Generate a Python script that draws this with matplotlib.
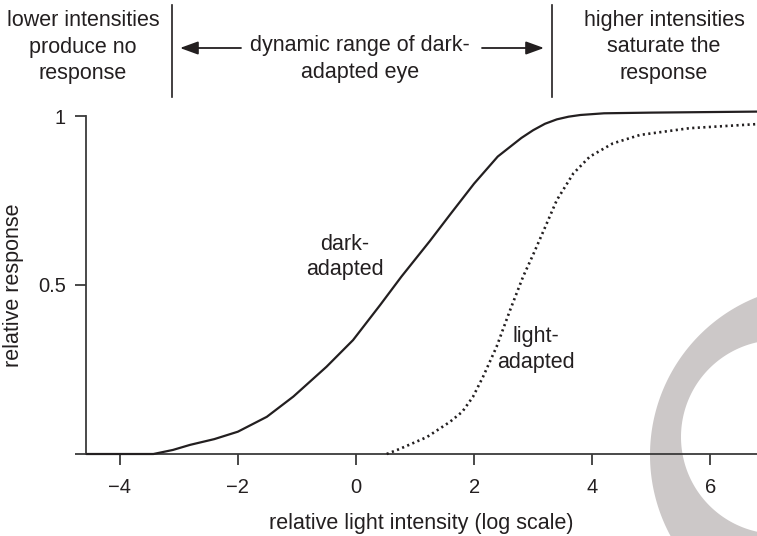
import numpy as np
import matplotlib
matplotlib.use("Agg")
import matplotlib.pyplot as plt
from matplotlib.path import Path
from matplotlib.patches import PathPatch
from matplotlib.transforms import Affine2D, blended_transform_factory

plt.rcParams['font.family'] = ['Liberation Sans', 'DejaVu Sans']

# response curves (x = log intensity, y = relative response)
dark_x = [-4.55, -3.43, -3.1, -2.81, -2.4, -2.0, -1.51, -1.06, -0.5, -0.05, 0.41,
          0.77, 1.25, 1.6, 2.0, 2.4, 2.8, 3.0, 3.2, 3.4, 3.6, 3.8, 4.2, 5.0, 6.79]
dark_y = [0.0, 0.0, 0.012, 0.027, 0.044, 0.066, 0.110, 0.170, 0.258, 0.337, 0.441,
          0.525, 0.63, 0.71, 0.80, 0.88, 0.935, 0.958, 0.977, 0.99, 0.998, 1.003,
          1.008, 1.01, 1.013]

light_x = [0.52, 0.74, 1.2, 1.59, 1.8, 1.98, 2.15, 2.38, 2.61, 2.83, 3.0, 3.2,
           3.4, 3.68, 3.96, 4.35, 4.81, 5.65, 6.79]
light_y = [0.0, 0.015, 0.05, 0.095, 0.125, 0.169, 0.228, 0.317, 0.426, 0.525,
           0.59, 0.67, 0.751, 0.830, 0.880, 0.919, 0.944, 0.964, 0.976]

xticks = [-4, -2, 0, 2, 4, 6]
yticks = [0, 0.5, 1]
ytick_labels = ['', '0.5', '1']

# boundaries of the dark-adapted dynamic range
range_lo, range_hi = -3.11, 3.32

ink = '#231f20'
W, H = 757, 536

fig = plt.figure(figsize=(W / 100, H / 100), dpi=100)
ax = fig.add_axes([85.5 / W, (H - 454) / H, 1 - 85.5 / W, (454 - 116) / H])
ax.set_facecolor('none')

# grey crescent decoration (pixel coords, y downward)
px = Affine2D().scale(1, -1).translate(0, H).scale(1 / W, 1 / H) + fig.transFigure
t = np.linspace(0, 2 * np.pi, 300)
outer = np.column_stack([820 + 170 * np.cos(t), 455 + 170 * np.sin(t)])
inner = np.column_stack([778 + 97 * np.cos(t[::-1]), 437 + 97 * np.sin(t[::-1])])
verts = np.vstack([outer, inner])
codes = np.full(len(verts), Path.LINETO)
codes[0] = Path.MOVETO
codes[len(outer)] = Path.MOVETO
fig.patches.append(PathPatch(Path(verts, codes), transform=px, facecolor='#ccc8c8',
                             edgecolor='none', zorder=-5))

ax.plot(dark_x, dark_y, color=ink, lw=1.6, clip_on=False, zorder=3,
        solid_joinstyle='round')
ax.plot(light_x, light_y, color=ink, lw=1.9, linestyle=(0, (0.8, 1.3)),
        clip_on=False, zorder=3)

ax.set_xlim(-4.58, 6.79)
ax.set_ylim(0, 1)
ax.set_xticks(xticks)
ax.set_yticks(yticks)
ax.set_yticklabels(ytick_labels)
for s in ['top', 'right']:
    ax.spines[s].set_visible(False)
for s in ['left', 'bottom']:
    ax.spines[s].set_color('#3a3a3a')
    ax.spines[s].set_linewidth(1.3)
ax.tick_params(axis='both', direction='out', length=8, width=1.3, color='#3a3a3a',
               labelsize=14.5, labelcolor=ink)
ax.tick_params(axis='x', pad=9)
ax.tick_params(axis='y', pad=6)

ax.set_xlabel('relative light intensity (log scale)', fontsize=15.5, color=ink, labelpad=12)
ax.set_ylabel('relative response', fontsize=15.5, color=ink)
ax.yaxis.set_label_coords(-0.091, 0.5)

ax.text(-0.19, 0.583, 'dark-\nadapted', fontsize=15.5, color=ink, ha='center',
        va='center', linespacing=1.3)
ax.text(3.05, 0.31, 'light-\nadapted', fontsize=15.5, color=ink, ha='center',
        va='center', linespacing=1.3)

# header annotations above the plot
top = blended_transform_factory(ax.transData, fig.transFigure)
for xv in [range_lo, range_hi]:
    ax.plot([xv, xv], [1 - 5 / H, 1 - 97 / H], color=ink, lw=1.2,
            transform=top, clip_on=False)

fig.text(83 / W, 1 - 47 / H, 'lower intensities\nproduce no\nresponse', fontsize=15.5,
         color=ink, ha='center', va='center', linespacing=1.35)
fig.text(664 / W, 1 - 47 / H, 'higher intensities\nsaturate the\nresponse', fontsize=15.5,
         color=ink, ha='center', va='center', linespacing=1.35)
fig.text(360 / W, 1 - 59 / H, 'dynamic range of dark-\nadapted eye', fontsize=15.5,
         color=ink, ha='center', va='center', linespacing=1.35)

arrow = dict(arrowstyle='-|>,head_length=1.1,head_width=0.4', color=ink, lw=1.3,
             shrinkA=0, shrinkB=0)
ax.annotate('', xy=(180 / W, 1 - 48 / H), xytext=(241 / W, 1 - 48 / H),
            xycoords='figure fraction', arrowprops=arrow, annotation_clip=False)
ax.annotate('', xy=(544 / W, 1 - 48 / H), xytext=(482 / W, 1 - 48 / H),
            xycoords='figure fraction', arrowprops=arrow, annotation_clip=False)

fig.savefig('out.png', dpi=100)
